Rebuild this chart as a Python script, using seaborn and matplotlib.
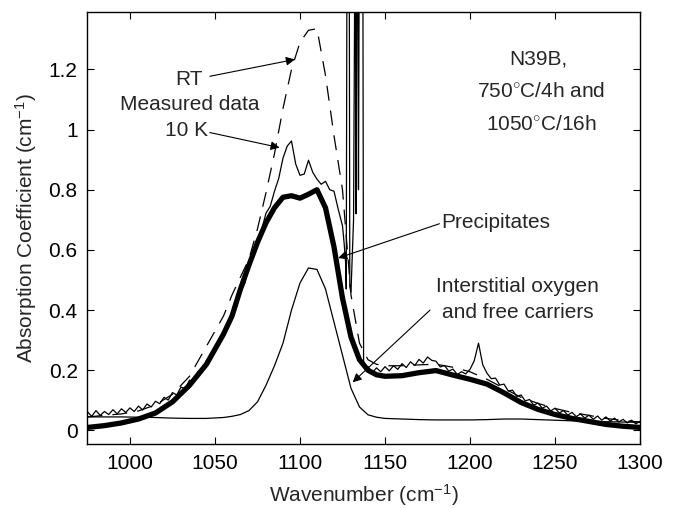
import numpy as np
import pandas as pd
import matplotlib
matplotlib.use("Agg")
import matplotlib.pyplot as plt
import seaborn as sns

# wavenumber grid for the smooth curves (cm-1)
wn = [975, 985, 995, 1005, 1015, 1025, 1035, 1045, 1055, 1060, 1065, 1070, 1075,
      1080, 1085, 1090, 1095, 1100, 1105, 1110, 1115, 1120, 1125, 1130, 1135,
      1140, 1145, 1150, 1160, 1170, 1180, 1190, 1200, 1210, 1220, 1230, 1240,
      1250, 1260, 1270, 1280, 1290, 1300]

# total fit (thick line)
fit_total = [0.010, 0.016, 0.025, 0.038, 0.058, 0.095, 0.150, 0.220, 0.320, 0.380,
             0.470, 0.550, 0.625, 0.690, 0.740, 0.775, 0.780, 0.772, 0.785, 0.800,
             0.740, 0.610, 0.440, 0.310, 0.235, 0.200, 0.185, 0.180, 0.182, 0.192,
             0.199, 0.184, 0.170, 0.154, 0.125, 0.093, 0.070, 0.053, 0.040, 0.030,
             0.020, 0.014, 0.010]

# interstitial oxygen + free carriers component (thin line)
oxygen = [0.045, 0.045, 0.045, 0.044, 0.043, 0.041, 0.040, 0.040, 0.043, 0.047,
          0.053, 0.066, 0.095, 0.150, 0.215, 0.290, 0.400, 0.490, 0.540, 0.535,
          0.470, 0.360, 0.250, 0.140, 0.078, 0.052, 0.044, 0.040, 0.038, 0.036,
          0.035, 0.035, 0.035, 0.036, 0.038, 0.038, 0.036, 0.034, 0.032, 0.030,
          0.029, 0.028, 0.027]

# room temperature spectrum (dashed)
rt = [0.045, 0.050, 0.055, 0.065, 0.085, 0.120, 0.180, 0.280, 0.380, 0.450,
      0.510, 0.570, 0.670, 0.790, 0.920, 1.070, 1.200, 1.290, 1.330, 1.335,
      1.180, 0.980, 0.800, 0.450, 0.290, 0.235, 0.220, 0.215, 0.215, 0.218,
      0.220, 0.210, 0.195, 0.170, 0.140, 0.110, 0.090, 0.073, 0.060, 0.050,
      0.040, 0.033, 0.028]

# measured data at 10 K (noisy thin line), three pieces
meas_x_a = np.arange(975, 1125.1, 2.5)
meas_y_a = [0.062, 0.047, 0.066, 0.050, 0.063, 0.053, 0.069, 0.055, 0.072, 0.060,
            0.075, 0.063, 0.081, 0.068, 0.088, 0.078, 0.097, 0.089, 0.110, 0.101,
            0.126, 0.118, 0.144, 0.139, 0.167, 0.162, 0.196, 0.200, 0.232, 0.238,
            0.276, 0.288, 0.327, 0.344, 0.388, 0.408, 0.462, 0.488, 0.548, 0.578,
            0.638, 0.668, 0.722, 0.745, 0.795, 0.838, 0.905, 0.945, 0.962, 0.885,
            0.848, 0.852, 0.898, 0.858, 0.835, 0.818, 0.828, 0.800, 0.795, 0.735,
            0.680]
meas_x_b = [1126.0, 1126.8, 1127.2, 1127.6, 1129.0, 1129.3, 1130.0, 1131.5, 1132.2,
            1132.6, 1133.0, 1133.4, 1134.0, 1134.4, 1134.8, 1137.0, 1137.4, 1138.5]
meas_y_b = [0.62, 0.56, 0.47, 1.5, 1.5, 0.48, 0.46, 0.70, 1.5,
            1.5, 0.72, 1.5, 1.5, 0.80, 1.5, 1.5, 0.23, 0.21]
meas_x_c = np.arange(1140, 1300.1, 2.5)
meas_y_c = [0.212, 0.192, 0.208, 0.195, 0.212, 0.198, 0.215, 0.203, 0.222, 0.209,
            0.228, 0.216, 0.236, 0.224, 0.244, 0.233, 0.230, 0.211, 0.216, 0.197,
            0.204, 0.186, 0.195, 0.188, 0.203, 0.232, 0.290, 0.218, 0.190, 0.172,
            0.174, 0.151, 0.154, 0.131, 0.134, 0.113, 0.118, 0.098, 0.103, 0.084,
            0.091, 0.074, 0.081, 0.065, 0.074, 0.058, 0.066, 0.051, 0.060, 0.046,
            0.055, 0.041, 0.051, 0.037, 0.048, 0.034, 0.045, 0.031, 0.041, 0.028,
            0.037, 0.025, 0.034, 0.022, 0.030]

meas = pd.DataFrame({
    "wn": np.concatenate([meas_x_a, meas_x_b, meas_x_c]),
    "abs": np.concatenate([meas_y_a, meas_y_b, meas_y_c]),
})
model = pd.DataFrame({"wn": wn, "fit": fit_total, "oxy": oxygen, "rt": rt})

x_ticks = [1000, 1050, 1100, 1150, 1200, 1250, 1300]
y_ticks = [0, 0.2, 0.4, 0.6, 0.8, 1.0, 1.2]
y_labels = ["0", "0.2", "0.4", "0.6", "0.8", "1", "1.2"]

sns.set_style("ticks")
plt.rcParams["font.family"] = ["Liberation Sans", "DejaVu Sans"]
plt.rcParams["mathtext.fontset"] = "custom"
plt.rcParams["mathtext.rm"] = "Liberation Sans"
plt.rcParams["mathtext.it"] = "Liberation Sans"

fs = 15

fig = plt.figure(figsize=(6.78, 5.08), dpi=100)
ax = fig.add_axes([0.129, 0.126, 0.815, 0.850])

sns.lineplot(data=model, x="wn", y="rt", ax=ax, color="black", linewidth=0.9,
             dashes=False, estimator=None, sort=False)
ax.lines[-1].set_dashes((12, 8))
sns.lineplot(data=meas, x="wn", y="abs", ax=ax, color="black", linewidth=0.9,
             estimator=None, sort=False)
sns.lineplot(data=model, x="wn", y="oxy", ax=ax, color="black", linewidth=0.9,
             estimator=None, sort=False)
sns.lineplot(data=model, x="wn", y="fit", ax=ax, color="black", linewidth=3.8,
             estimator=None, sort=False)

ax.set_xlim(975, 1300)
ax.set_ylim(-0.045, 1.39)
ax.set_xticks(x_ticks)
ax.set_yticks(y_ticks)
ax.set_yticklabels(y_labels)
ax.tick_params(direction="in", length=5, width=0.8, top=True, right=True,
               labelsize=fs, colors="black", pad=7)
for s in ax.spines.values():
    s.set_visible(True)
    s.set_linewidth(1.0)
    s.set_color("black")

ax.set_xlabel("Wavenumber (cm$^{-1}$)", fontsize=fs, labelpad=7)
ax.set_ylabel("Absorption Coefficient (cm$^{-1}$)", fontsize=fs, labelpad=7)

arrow = dict(arrowstyle="-|>", color="black", lw=0.8, mutation_scale=13,
             shrinkA=0, shrinkB=0)
ax.text(1035, 1.167, "RT", fontsize=fs, ha="center", va="center")
ax.text(1035, 1.083, "Measured data", fontsize=fs, ha="center", va="center")
ax.text(1033, 0.997, "10 K", fontsize=fs, ha="center", va="center")
ax.annotate("", xy=(1097, 1.233), xytext=(1047, 1.177), arrowprops=arrow)
ax.annotate("", xy=(1088, 0.94), xytext=(1047, 0.99), arrowprops=arrow)

ax.text(1183, 0.69, "Precipitates", fontsize=fs, ha="left", va="center")
ax.annotate("", xy=(1122.5, 0.573), xytext=(1182, 0.687), arrowprops=arrow)

ax.text(1228, 0.477, "Interstitial oxygen", fontsize=fs, ha="center", va="center")
ax.text(1228, 0.393, "and free carriers", fontsize=fs, ha="center", va="center")
ax.annotate("", xy=(1131, 0.16), xytext=(1176.5, 0.40), arrowprops=arrow)

ax.text(1240, 1.233, "N39B,", fontsize=fs, ha="center", va="center")
ax.text(1242, 1.127, r"750$^{\circ}$C/4h and", fontsize=fs, ha="center", va="center")
ax.text(1242, 1.017, r"1050$^{\circ}$C/16h", fontsize=fs, ha="center", va="center")

fig.savefig("out.png", dpi=100)
